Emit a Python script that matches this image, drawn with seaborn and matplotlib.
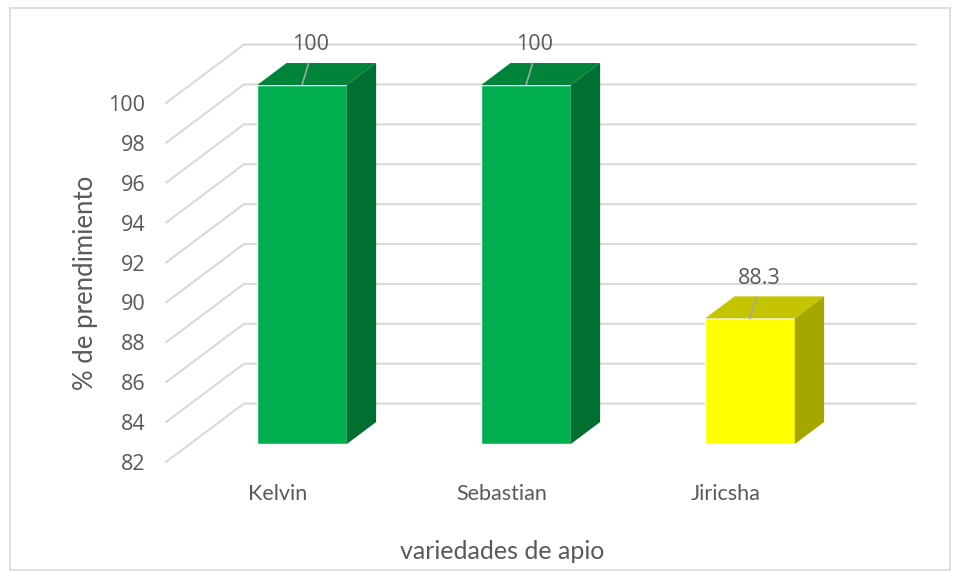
import numpy as np
import pandas as pd
import seaborn as sns
import matplotlib.pyplot as plt
from matplotlib.patches import Polygon, Rectangle

### data
varieties = ["Kelvin", "Sebastian", "Jiricsha"]
prendimiento = [100, 100, 88.3]
front_colors = ["#00B050", "#00B050", "#FFFF00"]
top_colors = ["#00843B", "#00843B", "#C4C400"]
side_colors = ["#006F31", "#006F31", "#A6A600"]
y_ticks = [82, 84, 86, 88, 90, 92, 94, 96, 98, 100]

df = pd.DataFrame({"variedad": varieties, "valor": prendimiento})

### 3d look: depth vector in data units (x, y) and where the bars sit in it
DX, DY = 0.348, 2.93
f_front, f_back = 0.308, 0.684
y_min, y_max = 82, 100
grid_col = "#D9D9D9"
text_col = "#595959"
num_font = ['Open Sans', 'DejaVu Sans']

sns.set_theme(style="white")
plt.rcParams['font.family'] = ['Lato', 'DejaVu Sans']

fig = plt.figure(figsize=(9.59, 5.78), dpi=100)
W, H = 959, 578
ax = fig.add_axes([166 / W, (H - 462) / H, 672 / W, (462 - 103) / H])

# outer frame of the chart area
fig.patches.append(Rectangle((10 / W, 8 / H), 940 / W, 562 / H, transform=fig.transFigure,
                             fill=False, edgecolor=grid_col, linewidth=1.2))

sns.barplot(data=df, x="variedad", y="valor", hue="variedad", palette=front_colors,
            width=0.4, saturation=1, legend=False, ax=ax, zorder=3)

ax.set_xlim(-0.5, 2.5)
ax.set_ylim(y_min, y_max)

#### gridlines on the side wall and back wall
for t in y_ticks:
    ax.plot([-0.5, -0.5 + DX, 2.5 + DX], [t, t + DY, t + DY], color=grid_col,
            linewidth=1.5, clip_on=False, zorder=1)

#### bar faces
fx, fy = f_front * DX, f_front * DY
bx, by = f_back * DX, f_back * DY
for p, v, tc, sc in zip(ax.patches, prendimiento, top_colors, side_colors):
    x0 = p.get_x() + fx
    w = p.get_width()
    p.set_x(x0)
    p.set_y(y_min + fy)
    p.set_height(v - y_min)
    p.set_clip_on(False)
    ddx, ddy = bx - fx, by - fy
    top = Polygon([(x0, v + fy), (x0 + w, v + fy), (x0 + w + ddx, v + by), (x0 + ddx, v + by)],
                  closed=True, facecolor=tc, edgecolor="none", clip_on=False, zorder=3)
    side = Polygon([(x0 + w, y_min + fy), (x0 + w, v + fy), (x0 + w + ddx, v + by),
                    (x0 + w + ddx, y_min + by)],
                   closed=True, facecolor=sc, edgecolor="none", clip_on=False, zorder=3)
    ax.add_patch(top)
    ax.add_patch(side)
    ax.annotate(f"{v:g}", xy=(x0 + w / 2, v + fy), xytext=(6.5, 29), textcoords="offset points",
                ha="center", va="center", fontsize=15.5, color=text_col, family=num_font,
                annotation_clip=False,
                arrowprops=dict(arrowstyle="-", color="#A6A6A6", lw=1.2, relpos=(0.5, 0),
                                shrinkA=4, shrinkB=0), zorder=4)

### axes
ax.set_yticks(y_ticks)
ax.tick_params(axis="y", length=0, pad=15, labelsize=15.5, labelcolor=text_col)
for lab in ax.get_yticklabels():
    lab.set_family(num_font)
ax.tick_params(axis="x", length=0, pad=16, labelsize=15.5, labelcolor=text_col)
ax.set_xlabel("variedades de apio", fontsize=18, color=text_col, labelpad=26)
ax.set_ylabel("% de prendimiento", fontsize=18.5, color=text_col, labelpad=7)
ax.grid(False)
for s in ax.spines.values():
    s.set_visible(False)
ax.patch.set_alpha(0)

plt.savefig("out.png", dpi=100)
